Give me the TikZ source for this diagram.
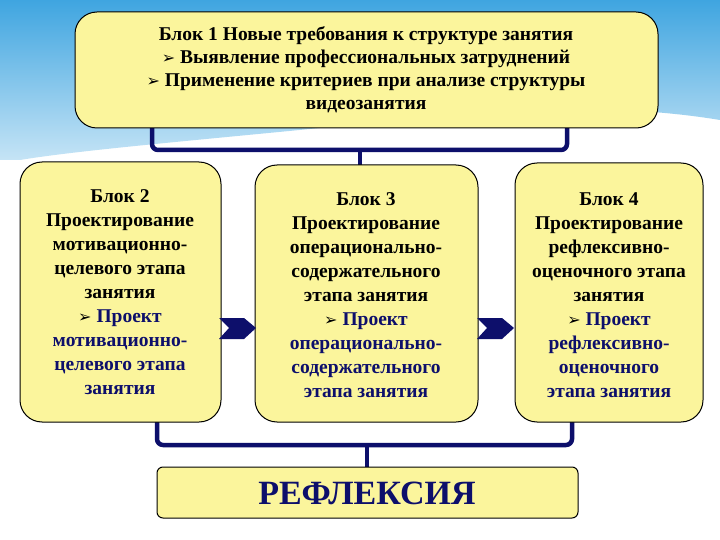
\documentclass[tikz,border=0pt]{standalone}
\usepackage{fontspec}
\setmainfont{Liberation Serif}
\newfontfamily\dv{DejaVu Sans}
\definecolor{boxy}{HTML}{FBF59C}
\definecolor{navy}{HTML}{0D0F6B}
\definecolor{sky}{HTML}{3FA5E0}
\newcommand{\arr}{{\dv\fontsize{16}{16}\selectfont ➢}}
\begin{document}
\begin{tikzpicture}[x=1pt,y=-1pt,
  blk/.style={draw=black,line width=1pt,fill=boxy,rounded corners=22pt},
  txt/.style={align=center,font=\bfseries\fontsize{19.5}{24}\selectfont,text=black},
  brk/.style={draw=navy,line width=4.5pt,rounded corners=6pt},
  chev/.style={fill=navy}]
\useasboundingbox (0,0) rectangle (720,540);
\fill[white] (0,0) rectangle (720,540);
\shade[top color=sky,bottom color=sky!30] (0,0) -- (720,0) -- (720,120) .. controls (600,100) and (450,110) .. (350,125) .. controls (200,140) and (80,150) .. (20,160) -- (0,160) -- cycle;
% brackets
\draw[brk] (152,128) -- (152,150) -- (567,150) -- (567,128);
\draw[brk] (360,150) -- (360,165);
\draw[brk] (157,420) -- (157,445) -- (572,445) -- (572,420);
\draw[brk] (367,445) -- (367,467);
% boxes
\path[blk] (75,12) rectangle (658,128);
\node[txt,font=\bfseries\fontsize{19.5}{23}\selectfont] (top) at (366,70) {Блок 1 Новые требования к структуре занятия\\ \arr{} Выявление профессиональных затруднений\\ \arr{} Применение критериев при анализе структуры\\ видеозанятия};
\path[blk] (20,162) rectangle (221,422);
\path[blk] (255,165) rectangle (478,422);
\path[blk] (515,163) rectangle (703,422);
\node[txt] (b2) at (120,292) {Блок 2\\Проектирование\\мотивационно-\\целевого этапа\\занятия\\ \arr\ \textcolor{navy}{Проект}\\ \textcolor{navy}{мотивационно-}\\ \textcolor{navy}{целевого этапа}\\ \textcolor{navy}{занятия}};
\node[txt] (b3) at (366,295) {Блок 3\\Проектирование\\операционально-\\содержательного\\этапа занятия\\ \arr\ \textcolor{navy}{Проект}\\ \textcolor{navy}{операционально-}\\ \textcolor{navy}{содержательного}\\ \textcolor{navy}{этапа занятия}};
\node[txt] (b4) at (609,295) {Блок 4\\Проектирование\\рефлексивно-\\оценочного этапа\\занятия\\ \arr\ \textcolor{navy}{Проект}\\ \textcolor{navy}{рефлексивно-}\\ \textcolor{navy}{оценочного}\\ \textcolor{navy}{этапа занятия}};
\path[blk,rounded corners=6pt] (157,467) rectangle (578,518);
\node[font=\bfseries\fontsize{34}{36}\selectfont,text=navy] (r) at (367,493) {РЕФЛЕКСИЯ};
% chevrons
\fill[chev] (219,318) -- (244,318) -- (256,328) -- (244,339) -- (219,339) -- (229,328) -- cycle;
\fill[chev] (477,318) -- (502,318) -- (514,328) -- (502,339) -- (477,339) -- (487,328) -- cycle;
\end{tikzpicture}
\end{document}
